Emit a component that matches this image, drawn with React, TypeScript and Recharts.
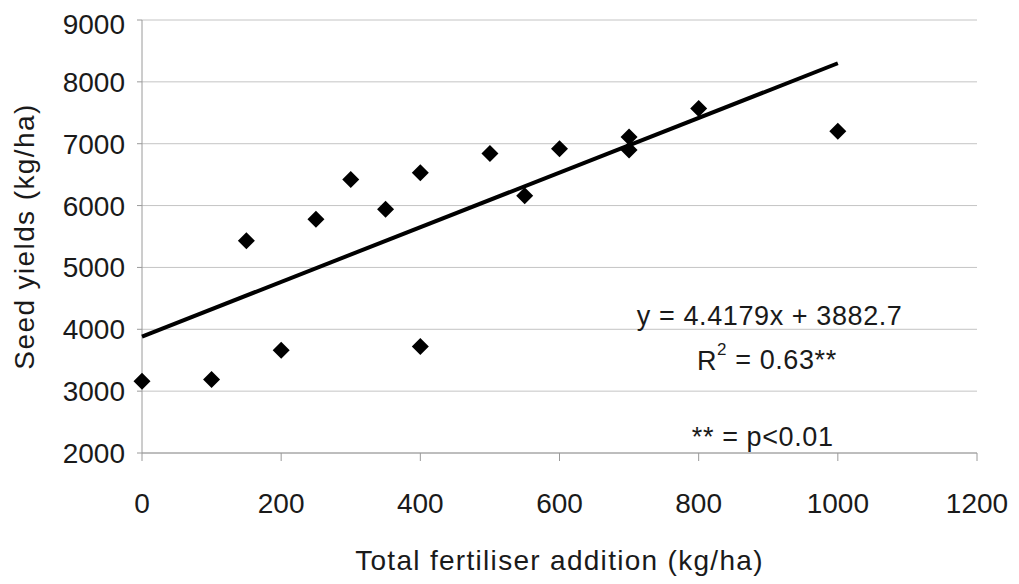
import { ScatterChart, Scatter, XAxis, YAxis, CartesianGrid, ReferenceDot } from 'recharts'

const fertiliser = [0, 100, 150, 200, 250, 300, 350, 400, 400, 500, 550, 600, 700, 700, 800, 1000]
const seedYield = [3160, 3190, 5430, 3660, 5780, 6420, 5940, 6530, 3720, 6840, 6160, 6920, 7110, 6900, 7570, 7200]

// fitted line y = 4.4179x + 3882.7, end points
const trendX = [0, 1000]
const trendY = [3882.7, 8300.6]

const xTicks = [0, 200, 400, 600, 800, 1000, 1200]
const yTicks = [2000, 3000, 4000, 5000, 6000, 7000, 8000, 9000]

const points = fertiliser.map((x, i) => ({ x, y: seedYield[i] }))
const trend = trendX.map((x, i) => ({ x, y: trendY[i] }))

const FONT = '"Liberation Sans", Arial, sans-serif'
const INK = '#1a1a1a'

function Diamond(props: { cx?: number; cy?: number }) {
  const { cx = 0, cy = 0 } = props
  const r = 8.5
  return <polygon points={`${cx},${cy - r} ${cx + r},${cy} ${cx},${cy + r} ${cx - r},${cy}`} fill="#000" />
}

function NoDot() {
  return <g />
}

function note(text: string, sup?: string, rest?: string) {
  return (props: { viewBox?: { x?: number; y?: number; cx?: number; cy?: number } }) => {
    const vb = props.viewBox || {}
    const x = vb.cx ?? vb.x ?? 0
    const y = vb.cy ?? vb.y ?? 0
    return (
      <text x={x} y={y} dy="0.36em" textAnchor="middle" fontFamily={FONT} fontSize={27} fill={INK} letterSpacing={0.6}>
        {text}
        {sup && (
          <tspan fontSize={17} dy="-0.9em">
            {sup}
          </tspan>
        )}
        {rest && <tspan dy="0.55em">{rest}</tspan>}
      </text>
    )
  }
}

export default function App() {
  return (
    <div style={{ width: 1003, height: 568 }}>
      <ScatterChart width={1003} height={568} margin={{ top: 12, right: 34, bottom: 0, left: 0 }}>
        <CartesianGrid vertical={false} stroke="#c4c4c4" />
        <XAxis
          type="number"
          dataKey="x"
          domain={[0, 1200]}
          ticks={xTicks}
          height={123}
          tickSize={8}
          tickMargin={32}
          axisLine={{ stroke: '#9a9a9a' }}
          tickLine={{ stroke: '#9a9a9a' }}
          tick={{ fontSize: 28, fill: INK, fontFamily: FONT }}
          label={{ value: 'Total fertiliser addition (kg/ha)', position: 'center', dy: 46, fontSize: 28, fill: INK, fontFamily: FONT, letterSpacing: 1.3 }}
        />
        <YAxis
          type="number"
          dataKey="y"
          domain={[2000, 9000]}
          ticks={yTicks}
          width={134}
          tickSize={5}
          tickMargin={12}
          axisLine={{ stroke: '#9a9a9a' }}
          tickLine={{ stroke: '#9a9a9a' }}
          tick={{ fontSize: 28, fill: INK, fontFamily: FONT }}
          label={{ value: 'Seed yields (kg/ha)', angle: -90, position: 'center', dx: -51, fontSize: 28, fill: INK, fontFamily: FONT, letterSpacing: 1.4 }}
        />
        <Scatter data={trend} line={{ stroke: '#000', strokeWidth: 4 }} shape={NoDot} isAnimationActive={false} legendType="none" />
        <Scatter data={points} shape={Diamond} isAnimationActive={false} legendType="none" />
        <ReferenceDot x={902} y={4230} r={0} stroke="none" fill="none" label={{ content: note('y = 4.4179x + 3882.7') }} />
        <ReferenceDot x={898} y={3500} r={0} stroke="none" fill="none" label={{ content: note('R', '2', ' = 0.63**') }} />
        <ReferenceDot x={892} y={2270} r={0} stroke="none" fill="none" label={{ content: note('** = p<0.01') }} />
      </ScatterChart>
    </div>
  )
}
